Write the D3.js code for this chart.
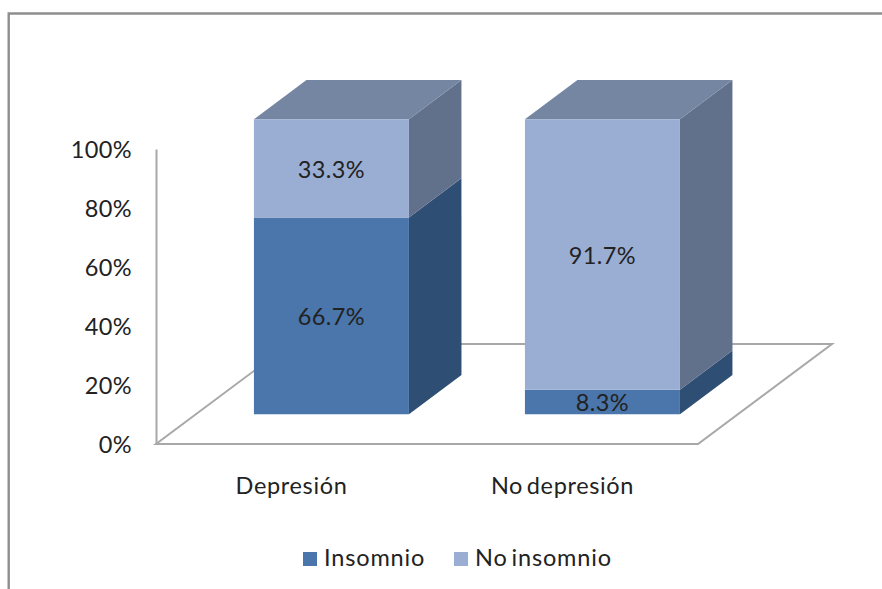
<!DOCTYPE html>
<html lang="es">
<head>
<meta charset="utf-8">
<script src="https://cdn.jsdelivr.net/npm/d3@7"></script>
<style>
  html, body { margin: 0; padding: 0; background: #fff; }
  svg { display: block; }
  text { font-family: Lato, "Open Sans", sans-serif; fill: #222; letter-spacing: 0.4px; }
</style>
</head>
<body>
<svg id="chart" width="882" height="589"></svg>
<script>
// Chart data
const categories = ["Depresión", "No depresión"];
const seriesNames = ["Insomnio", "No insomnio"];
const insomnio = [66.7, 8.3];
const noInsomnio = [33.3, 91.7];
const percentTicks = [0, 20, 40, 60, 80, 100];

const faceColors = {
  "Insomnio": { front: "#4a76ab", side: "#2f4e73", top: "#3f5f86" },
  "No insomnio": { front: "#9aaed4", side: "#62718b", top: "#7586a2" }
};

const svg = d3.select("#chart");

// Outer frame: only the top and left edges fall inside the page
svg.append("path")
  .attr("d", d3.line()([[8.7, 589], [8.7, 13.5], [882, 13.5]]))
  .attr("fill", "none")
  .attr("stroke", "#8e8e8e")
  .attr("stroke-width", 2.4);

// Plot box in page coordinates
const plot = { left: 156, right: 698, bottom: 444, top: 149 };
const floorDepth = { dx: 134, dy: -100 };
const barDepthStart = 0.298;
const barDepthEnd = 0.69;

const x = d3.scaleBand()
  .domain(categories)
  .range([plot.left, plot.right])
  .paddingInner(0.428)
  .paddingOuter(0.214);

const y = d3.scaleLinear()
  .domain([0, 100])
  .range([plot.bottom, plot.top]);

// Oblique projection: depth d runs from 0 (front) to 1 (back of the floor)
const project = (px, py, d) => [px + floorDepth.dx * d, py + floorDepth.dy * d];
const polygon = pts => d3.line()(pts) + "Z";

// Floor of the 3D plot
const floorColor = "#a8a8a8";
svg.append("path")
  .attr("d", polygon([
    project(plot.left, plot.bottom, 0),
    project(plot.right, plot.bottom, 0),
    project(plot.right, plot.bottom, 1),
    project(plot.left, plot.bottom, 1)
  ]))
  .attr("fill", "none")
  .attr("stroke", floorColor)
  .attr("stroke-width", 2);

// Percent axis
const yAxis = svg.append("g")
  .attr("transform", `translate(${plot.left},0)`)
  .call(d3.axisLeft(y)
    .tickValues(percentTicks)
    .tickFormat(d => d + "%")
    .tickSize(0)
    .tickPadding(24));
yAxis.select(".domain").attr("stroke", floorColor).attr("stroke-width", 2);
yAxis.selectAll("text")
  .attr("font-size", 23.5)
  .style("font-family", "Lato, 'Open Sans', sans-serif")
  .attr("dy", "0.38em");

// Stacked segments, each built from three visible faces
const rows = categories.map((c, i) => ({
  category: c,
  "Insomnio": insomnio[i],
  "No insomnio": noInsomnio[i]
}));
const stacked = d3.stack().keys(seriesNames)(rows);

const bars = svg.append("g");
stacked.forEach(layer => {
  const colors = faceColors[layer.key];
  layer.forEach(seg => {
    const cat = seg.data.category;
    const x0 = x(cat), x1 = x0 + x.bandwidth();
    const yLow = y(seg[0]), yHigh = y(seg[1]);
    const a = barDepthStart, b = barDepthEnd;
    const g = bars.append("g");

    g.append("path").attr("fill", colors.side).attr("d", polygon([
      project(x1, yLow, a), project(x1, yLow, b),
      project(x1, yHigh, b), project(x1, yHigh, a)
    ]));
    if (seg[1] >= 100) {
      g.append("path").attr("fill", colors.top).attr("d", polygon([
        project(x0, yHigh, a), project(x1, yHigh, a),
        project(x1, yHigh, b), project(x0, yHigh, b)
      ]));
    }
    g.append("path").attr("fill", colors.front).attr("d", polygon([
      project(x0, yLow, a), project(x1, yLow, a),
      project(x1, yHigh, a), project(x0, yHigh, a)
    ]));

    const [lx, ly] = project((x0 + x1) / 2, (yLow + yHigh) / 2, a);
    g.append("text")
      .attr("x", lx)
      .attr("y", ly + 1)
      .attr("dy", "0.36em")
      .attr("text-anchor", "middle")
      .attr("font-size", 23.5)
      .text((seg[1] - seg[0]).toFixed(1) + "%");
  });
});

// Category labels under the floor; the word gap is tightened
svg.append("g").selectAll("text")
  .data(categories)
  .join("text")
  .attr("x", d => x(d) + x.bandwidth() / 2)
  .attr("y", 494)
  .attr("text-anchor", "middle")
  .attr("font-size", 23.5)
  .style("letter-spacing", "0.65px")
  .style("word-spacing", "-3px")
  .text(d => d);

// Legend
const legendSwatch = 14;
const legendX = { "Insomnio": 303, "No insomnio": 454 };
const legend = svg.append("g").selectAll("g")
  .data(seriesNames)
  .join("g")
  .attr("transform", d => `translate(${legendX[d]},552)`);
legend.append("rect")
  .attr("width", legendSwatch)
  .attr("height", legendSwatch)
  .attr("fill", d => faceColors[d].front);
legend.append("text")
  .attr("x", legendSwatch + 7)
  .attr("y", 14)
  .attr("font-size", 23.5)
  .style("letter-spacing", "0.85px")
  .style("word-spacing", "-3px")
  .text(d => d);
</script>
</body>
</html>
